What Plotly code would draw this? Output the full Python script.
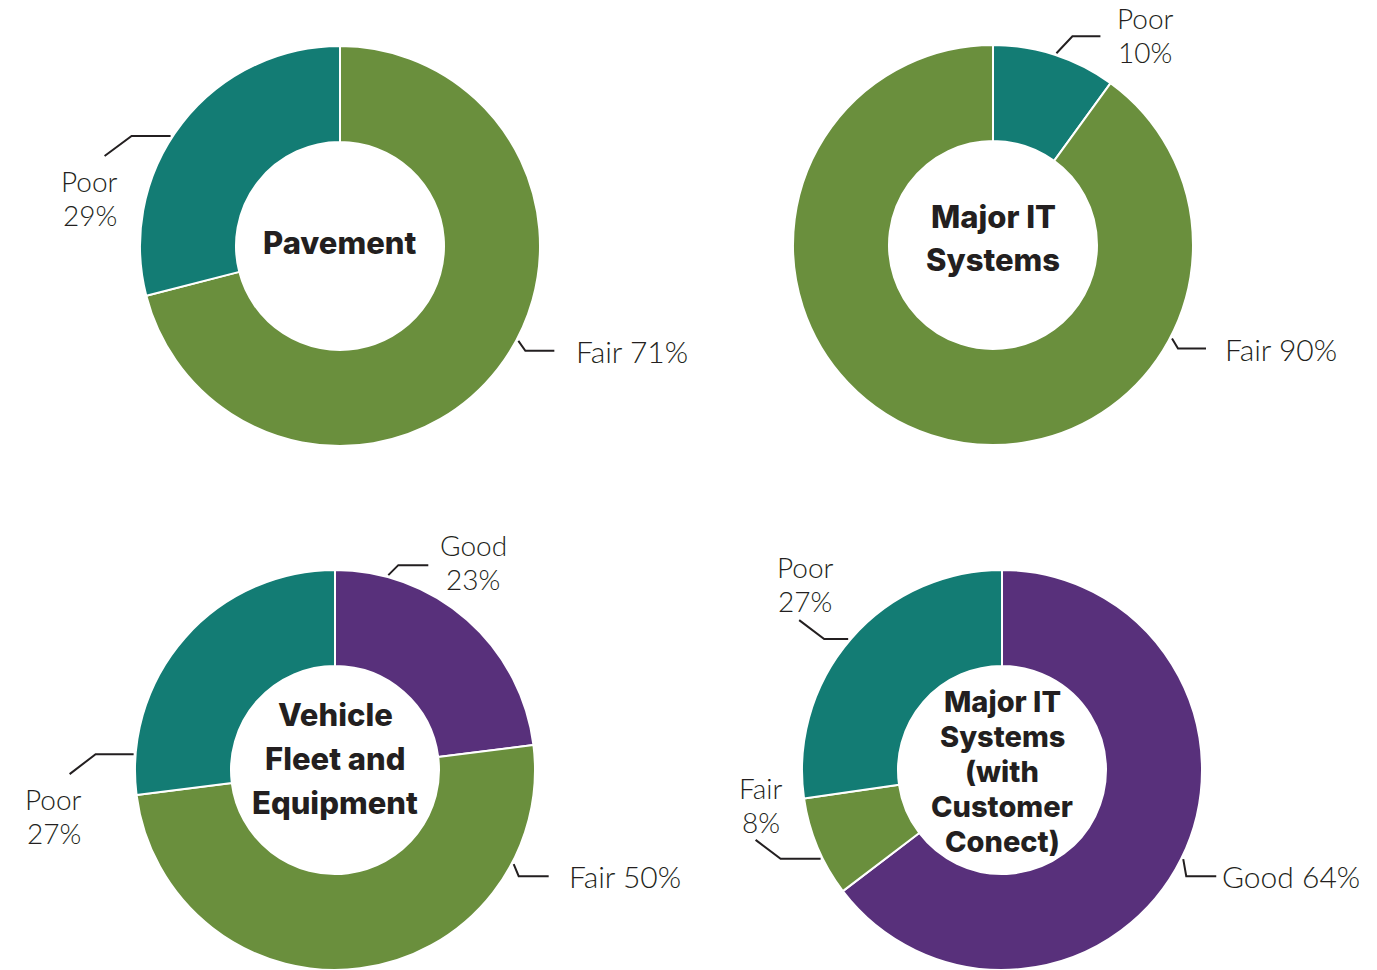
import math
import plotly.graph_objects as go

# ---- data -------------------------------------------------------------
pavement_labels = ["Fair", "Poor"]
pavement_values = [71, 29]

major_it_labels = ["Poor", "Fair"]
major_it_values = [10, 90]

vehicle_labels = ["Good", "Fair", "Poor"]
vehicle_values = [23, 50, 27]

customer_labels = ["Good", "Fair", "Poor"]
customer_values = [64, 8, 27]

titles = {
    "pavement": ["Pavement"],
    "major_it": ["Major IT", "Systems"],
    "vehicle": ["Vehicle", "Fleet and", "Equipment"],
    "customer": ["Major IT", "Systems", "(with", "Customer", "Conect)"],
}

# ---- styling ----------------------------------------------------------
W, H = 1377, 970
R = 200  # outer radius in px
HOLE = 0.52
COLORS = {"Good": "#58307b", "Fair": "#6a8f3d", "Poor": "#137c74"}
INK = "#231f20"
LABEL_FONT = dict(family="Lato", size=30, color=INK, weight=300)
STACK_FONT = dict(family="Lato", size=28, color=INK, weight=300)
TITLE_FONT = dict(family="Inter", size=31, color=INK, weight=800)

# chart centres (px) and centre-title line spacing
charts = [
    dict(key="pavement", labels=pavement_labels, values=pavement_values,
         cx=340, cy=246, ty=242, tgap=44, tsize=31),
    dict(key="major_it", labels=major_it_labels, values=major_it_values,
         cx=993, cy=245, ty=238, tgap=44, tsize=31),
    dict(key="vehicle", labels=vehicle_labels, values=vehicle_values,
         cx=335, cy=770, ty=758, tgap=44, tsize=31),
    dict(key="customer", labels=customer_labels, values=customer_values,
         cx=1002, cy=770, ty=771, tgap=35, tsize=29),
]

# leader-line layout: anchor angle (deg clockwise from 12 o'clock),
# two elbow offsets (px), text offset from elbow end, single/two line
callouts = {
    "pavement": {
        "Fair": dict(ang=118, d1=(7, 10), d2=(29, 0), mode="right", off=(20, 0)),
        "Poor": dict(ang=303, d1=(-39, 0), d2=(-27, 20), mode="stack", off=(-15, 25)),
    },
    "major_it": {
        "Poor": dict(ang=18.3, d1=(16, -17), d2=(28, 0), mode="stack", off=(45, -18)),
        "Fair": dict(ang=117.6, d1=(6, 10), d2=(28, 0), mode="right", off=(17, 0)),
    },
    "vehicle": {
        "Good": dict(ang=15.3, d1=(10, -10), d2=(30, 0), mode="stack", off=(45, -20)),
        "Fair": dict(ang=117.8, d1=(5, 12), d2=(30, 0), mode="right", off=(18, 0)),
        "Poor": dict(ang=274.5, d1=(-38, 0), d2=(-26, 20), mode="stack", off=(-16, 25)),
    },
    "customer": {
        "Good": dict(ang=116.2, d1=(3, 17), d2=(30, 0), mode="right", off=(4, 0)),
        "Fair": dict(ang=243.9, d1=(-40, 0), d2=(-25, -19), mode="stack", off=(5, -52)),
        "Poor": dict(ang=310.4, d1=(-24, 0), d2=(-25, -19), mode="stack", off=(6, -53)),
    },
}

LINE_GAP = 34  # px between stacked label lines


def px(x):
    return x / W


def py(y):
    return 1 - y / H


fig = go.Figure()
annotations = []
shapes = []

for c in charts:
    cx, cy = c["cx"], c["cy"]
    fig.add_trace(go.Pie(
        labels=c["labels"], values=c["values"],
        sort=False, direction="clockwise", rotation=0,
        hole=HOLE, textinfo="none", hoverinfo="label+percent",
        marker=dict(colors=[COLORS[l] for l in c["labels"]],
                    line=dict(color="white", width=2)),
        domain=dict(x=[px(cx - R), px(cx + R)],
                    y=[py(cy + R), py(cy - R)]),
        showlegend=False,
    ))

    # centre title
    lines = titles[c["key"]]
    n = len(lines)
    tfont = dict(TITLE_FONT, size=c["tsize"])
    for i, t in enumerate(lines):
        y = c["ty"] + (i - (n - 1) / 2) * c["tgap"]
        annotations.append(dict(
            x=px(cx), y=py(y), xref="paper", yref="paper",
            text=t, showarrow=False, xanchor="center", yanchor="middle",
            font=tfont))

    # callouts
    for lab, val in zip(c["labels"], c["values"]):
        spec = callouts[c["key"]][lab]
        a = math.radians(spec["ang"])
        x0 = cx + (R + 2) * math.sin(a)
        y0 = cy - (R + 2) * math.cos(a)
        x1, y1 = x0 + spec["d1"][0], y0 + spec["d1"][1]
        x2, y2 = x1 + spec["d2"][0], y1 + spec["d2"][1]
        shapes.append(dict(
            type="path", xref="paper", yref="paper",
            path=f"M {px(x0)} {py(y0)} L {px(x1)} {py(y1)} L {px(x2)} {py(y2)}",
            line=dict(color=INK, width=2)))
        pct = f"{val}%"
        ox, oy = spec["off"]
        if spec["mode"] == "right":
            annotations.append(dict(
                x=px(x2 + ox), y=py(y2 + oy), xref="paper", yref="paper",
                text=f"{lab} {pct}", showarrow=False,
                xanchor="left", yanchor="middle", font=LABEL_FONT))
        else:
            for i, t in enumerate([lab, pct]):
                annotations.append(dict(
                    x=px(x2 + ox), y=py(y2 + oy + i * LINE_GAP),
                    xref="paper", yref="paper", text=t, showarrow=False,
                    xanchor="center", yanchor="middle", font=STACK_FONT))

fig.update_layout(
    width=W, height=H,
    margin=dict(l=0, r=0, t=0, b=0),
    paper_bgcolor="white", plot_bgcolor="white",
    annotations=annotations, shapes=shapes,
)

fig.write_html("out.html")
